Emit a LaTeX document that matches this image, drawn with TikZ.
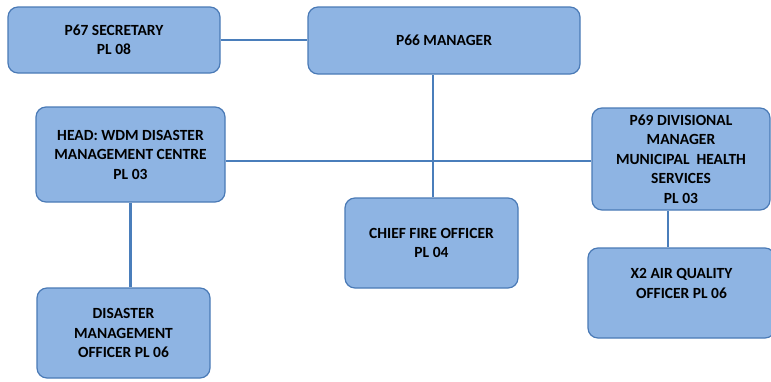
\documentclass[tikz,border=0pt]{standalone}
\usepackage{fontspec}
\setmainfont{Carlito}
\definecolor{boxfill}{RGB}{142,180,227}
\definecolor{boxline}{RGB}{74,122,182}
\definecolor{conn}{RGB}{74,126,187}
\tikzset{
  orgbox/.style={draw=boxline, line width=1.2pt, fill=boxfill, rounded corners=10pt,
    align=center, inner sep=0pt, text=black,
    font=\bfseries\fontsize{15.5}{19.5}\selectfont},
  link/.style={draw=conn, line width=1.6pt},
  thicklink/.style={draw=conn, line width=3pt}
}
\begin{document}
\begin{tikzpicture}[x=1pt,y=-1pt]
\useasboundingbox (0,0) rectangle (771,381);
\node[orgbox, minimum width=212pt, minimum height=66pt] (p67) at (114,40) {P67 SECRETARY\\PL 08};
\node[orgbox, minimum width=272pt, minimum height=67pt] (p66) at (444,40.5) {P66 MANAGER};
\node[orgbox, minimum width=189pt, minimum height=95pt] (head) at (130.5,154.5) {HEAD: WDM DISASTER\\MANAGEMENT CENTRE\\PL 03};
\node[orgbox, minimum width=178pt, minimum height=102pt] (p69) at (681,159) {P69 DIVISIONAL\\MANAGER\\MUNICIPAL\ \ HEALTH\\SERVICES\\PL 03};
\node[orgbox, minimum width=173pt, minimum height=90pt] (chief) at (431.5,243) {CHIEF FIRE OFFICER\\PL 04};
\node[orgbox, minimum width=187pt, minimum height=90pt] (x2) at (681.5,293) {X2 AIR QUALITY\\OFFICER PL 06\\\mbox{}};
\node[orgbox, minimum width=173pt, minimum height=90pt] (dis) at (123.5,333) {DISASTER\\MANAGEMENT\\OFFICER PL 06};
% connectors
\draw[link] (p67.east) -- (p67.east -| p66.west);
\draw[link] ([xshift=1.5pt]chief.north) -- ([xshift=1.5pt]chief.north |- p66.south);
\draw[link] ([yshift=-6.5pt]head.east) -- ([yshift=-6.5pt]head.east -| p69.west);
\draw[thicklink] (head.south) -- (head.south |- dis.north);
\draw[link] ([xshift=-13pt]p69.south) -- ([xshift=-13pt]p69.south |- x2.north);
\end{tikzpicture}
\end{document}
